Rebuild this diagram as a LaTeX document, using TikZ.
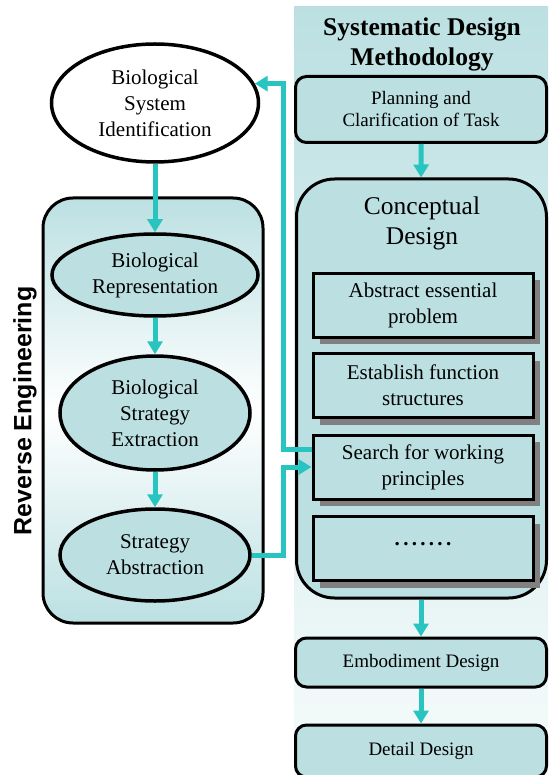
\documentclass[tikz,border=0pt]{standalone}
\usepackage{fontspec}
\setmainfont{Liberation Serif}
\newfontfamily\lsans{Liberation Sans}
\usetikzlibrary{shapes.geometric,arrows.meta,calc,shadows}
\definecolor{tealfill}{RGB}{188,224,226}
\definecolor{arrowteal}{RGB}{40,196,192}
\definecolor{shadowgray}{RGB}{128,128,128}
\definecolor{panelbottom}{RGB}{246,251,251}
\begin{document}
\begin{tikzpicture}[x=1pt,y=-1pt,
  ell/.style={ellipse,draw=black,line width=3.5pt,inner sep=0pt,align=center,
    fill=tealfill,font=\fontsize{21}{26}\selectfont},
  roundbox/.style={rectangle,draw=black,line width=3pt,fill=tealfill,
    rounded corners=11pt,align=center,minimum width=251pt,inner sep=0pt},
  stepbox/.style={rectangle,draw=black,line width=3pt,fill=tealfill,
    minimum width=220pt,minimum height=64pt,inner sep=0pt,align=center,
    font=\fontsize{21}{26}\selectfont,
    drop shadow={shadow xshift=7pt,shadow yshift=-7pt,fill=shadowgray,opacity=1}},
  arr/.style={draw=arrowteal,line width=5pt,-{Triangle[width=15pt,length=13pt]}},
  plainline/.style={draw=arrowteal,line width=5pt}
]
\useasboundingbox (0,0) rectangle (548,775);
% right panel background
\fill[top color=tealfill,bottom color=panelbottom] (294,7) rectangle (548,775);

% title
\node[align=center,font=\bfseries\fontsize{25.5}{30}\selectfont] (title) at (422,44)
  {Systematic Design\\Methodology};

% left container
\node[rectangle,draw=black,line width=3pt,rounded corners=30pt,
  minimum width=220pt,minimum height=425pt,
  top color=tealfill,bottom color=tealfill,middle color=white] (leftbox) at (153,410.5) {};
\node[rotate=90,font=\lsans\bfseries\fontsize{25}{30}\selectfont] (rev) at (25,411)
  {Reverse Engineering};

% ellipses
\node[ell,fill=white,minimum width=207pt,minimum height=118pt] (e1) at (155,103)
  {Biological\\System\\Identification};
\node[ell,minimum width=206pt,minimum height=82pt] (e2) at (155,275)
  {Biological\\Representation};
\node[ell,minimum width=190pt,minimum height=114pt] (e3) at (155,413)
  {Biological\\Strategy\\Extraction};
\node[ell,minimum width=190pt,minimum height=92pt] (e4) at (155,555)
  {Strategy\\Abstraction};

% right side
\node[roundbox,minimum height=66pt,font=\fontsize{19}{22}\selectfont] (plan) at (421,109.5)
  {Planning and\\Clarification of Task};
\node[rectangle,draw=black,line width=3pt,fill=tealfill,rounded corners=38pt,
  minimum width=250pt,minimum height=419pt] (concept) at (421.5,388.5) {};
\node[align=center,font=\fontsize{25.5}{30}\selectfont] (concepttext) at (422,223)
  {Conceptual\\Design};
\node[stepbox] (abs) at (423,305) {Abstract essential\\problem};
\node[stepbox] (est) at (423,385.5) {Establish function\\structures};
\node[stepbox] (search) at (423,467) {Search for working\\principles};
\node[stepbox] (dotsbox) at (423,548.5) {};
\node[anchor=base,font=\bfseries\fontsize{21}{26}\selectfont,inner sep=0pt] (dots) at (423,545)
  {.\kern3.3pt.\kern3.3pt.\kern3.3pt.\kern3.3pt.\kern3.3pt.\kern3.3pt.};
\node[roundbox,minimum height=49pt,font=\fontsize{19}{22}\selectfont] (embod) at (421,662.5)
  {Embodiment Design};
\node[roundbox,minimum height=52pt,font=\fontsize{19}{22}\selectfont] (detail) at (421,751)
  {Detail Design};

% connectors
\draw[arr] (e1) -- (e2);
\draw[arr] (e2) -- (e3);
\draw[arr] (e3) -- (e4);
\draw[arr] (plan) -- (concept);
\draw[arr] (concept.south -| embod.north) -- (embod);
\draw[arr] (embod) -- (detail);
\coordinate (rail) at (283,0);
\draw[arr] ($(search.west)+(0,-18)$) -| (rail |- e1.11) -- (e1.11);
\draw[arr] (e4.east) -- (rail |- e4.east) |- (search.west);
\end{tikzpicture}
\end{document}
